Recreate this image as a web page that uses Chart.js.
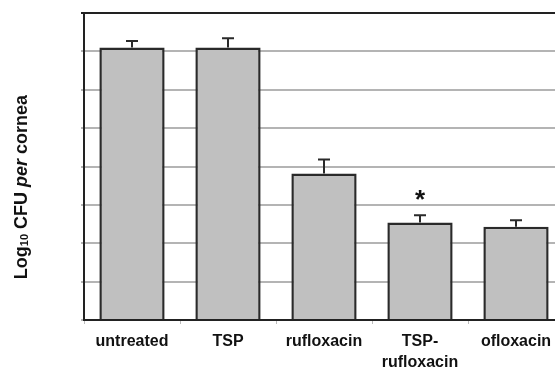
<!DOCTYPE html>
<html>
<head>
<meta charset="utf-8">
<script src="https://cdn.jsdelivr.net/npm/chart.js@4/dist/chart.umd.min.js"></script>
<style>
  html, body { margin: 0; padding: 0; background: #fff; overflow: hidden; width: 555px; height: 369px; }
  #wrap { position: absolute; left: 0; top: 0; width: 580px; height: 369px; }
</style>
</head>
<body>
<div id="wrap"><canvas id="c" width="580" height="369"></canvas></div>
<script>
// ---- data ----
const categories = ['untreated', 'TSP', 'rufloxacin', ['TSP-', 'rufloxacin'], 'ofloxacin'];
const meanLogCFU = [7.10, 7.10, 3.82, 2.54, 2.43];
const errLogCFU  = [0.17, 0.24, 0.36, 0.19, 0.17];
const significance = ['', '', '', '*', ''];
const yMin = 0, yMax = 8, yStep = 1;
const yTitleParts = [
  { text: 'Log', style: 'bold', size: 18, shift: 0 },
  { text: '10', style: 'bold', size: 11, shift: 3 },
  { text: ' CFU ', style: 'bold', size: 18, shift: 0 },
  { text: 'per', style: 'italic bold', size: 18, shift: 0 },
  { text: ' cornea', style: 'bold', size: 18, shift: 0 }
];

const FONT = '"Liberation Sans", Arial, Helvetica, sans-serif';

const errorBars = {
  id: 'errorBars',
  afterDatasetsDraw(chart) {
    const ctx = chart.ctx;
    const meta = chart.getDatasetMeta(0);
    const ys = chart.scales.y;
    ctx.save();
    ctx.strokeStyle = '#2a2a2a';
    ctx.lineWidth = 2;
    meta.data.forEach((bar, i) => {
      const x = bar.x;
      const yTop = ys.getPixelForValue(meanLogCFU[i] + errLogCFU[i]);
      const yBase = ys.getPixelForValue(meanLogCFU[i]);
      ctx.beginPath();
      ctx.moveTo(x, yBase);
      ctx.lineTo(x, yTop);
      ctx.moveTo(x - 6, yTop);
      ctx.lineTo(x + 6, yTop);
      ctx.stroke();
      if (significance[i]) {
        ctx.fillStyle = '#111';
        ctx.font = 'bold 26px ' + FONT;
        ctx.textAlign = 'center';
        ctx.textBaseline = 'middle';
        ctx.fillText(significance[i], x, yTop - 14);
      }
    });
    ctx.restore();
  }
};

const yTitle = {
  id: 'yTitle',
  afterDraw(chart) {
    const ctx = chart.ctx;
    ctx.save();
    ctx.translate(22, 187);
    ctx.rotate(-Math.PI / 2);
    ctx.fillStyle = '#111';
    ctx.textBaseline = 'middle';
    ctx.textAlign = 'left';
    let total = 0;
    yTitleParts.forEach(p => { ctx.font = p.style + ' ' + p.size + 'px ' + FONT; p.w = ctx.measureText(p.text).width; total += p.w; });
    let x = -total / 2;
    yTitleParts.forEach(p => {
      ctx.font = p.style + ' ' + p.size + 'px ' + FONT;
      ctx.fillText(p.text, x, p.shift);
      x += p.w;
    });
    ctx.restore();
  }
};

new Chart(document.getElementById('c'), {
  type: 'bar',
  data: {
    labels: categories,
    datasets: [{
      data: meanLogCFU,
      backgroundColor: '#c0c0c0',
      borderColor: '#2a2a2a',
      borderWidth: 2.5,
      borderSkipped: 'bottom',
      barPercentage: 0.68,
      categoryPercentage: 1.0
    }]
  },
  options: {
    responsive: false,
    animation: false,
    devicePixelRatio: 1,
    layout: { padding: { left: 0, top: 13, right: 16, bottom: 0 } },
    plugins: { legend: { display: false }, tooltip: { enabled: false } },
    scales: {
      x: {
        afterFit(s) { s.height = 49; },
        grid: { offset: true, drawOnChartArea: false, drawTicks: true, tickLength: 4, color: '#bbb', lineWidth: 1 },
        border: { color: '#222', width: 2 },
        ticks: {
          color: '#111',
          padding: 7,
          maxRotation: 0,
          autoSkip: false,
          font: { family: FONT, size: 16, weight: 'bold', lineHeight: 1.3 }
        }
      },
      y: {
        min: yMin, max: yMax,
        afterFit(s) { s.width = 84; },
        grid: {
          color: ctx => (ctx.tick && ctx.tick.value === yMax) ? '#222' : '#b4b4b4',
          lineWidth: 2,
          drawTicks: true,
          tickLength: 3
        },
        border: { color: '#222', width: 2 },
        ticks: { display: false, stepSize: yStep }
      }
    }
  },
  plugins: [errorBars, yTitle]
});
</script>
</body>
</html>
